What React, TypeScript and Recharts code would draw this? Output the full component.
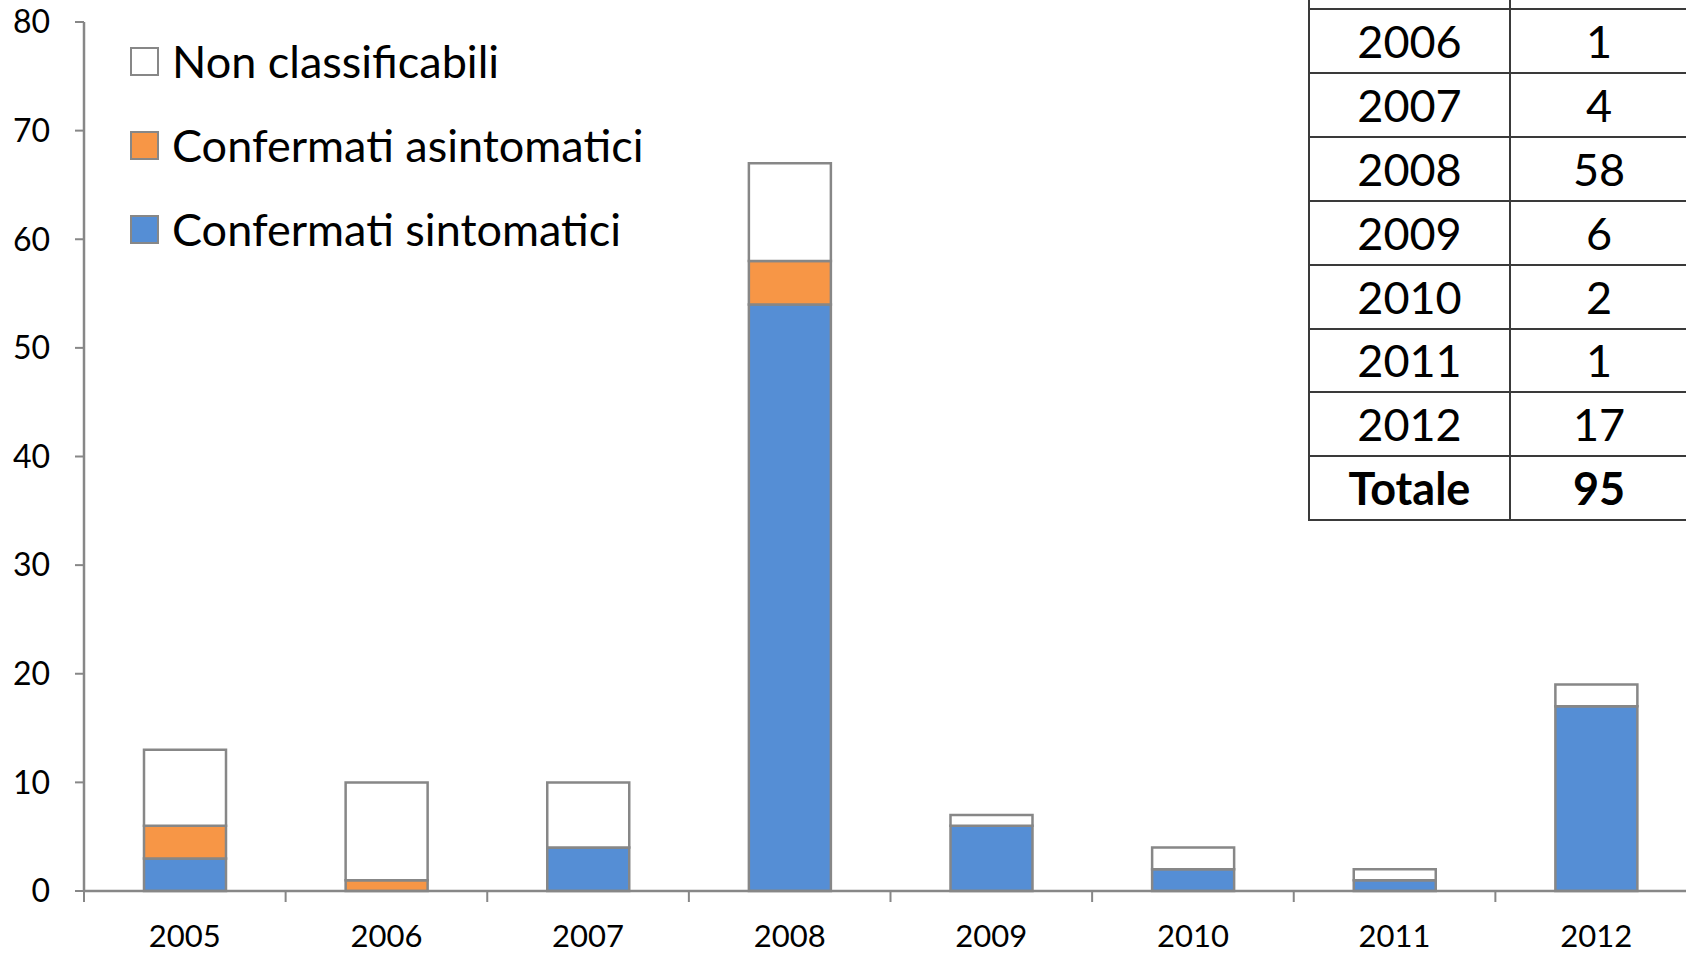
import React from "react";
import { BarChart, Bar, XAxis, YAxis } from "recharts";

const years = ["2005", "2006", "2007", "2008", "2009", "2010", "2011", "2012"];
const sintomatici = [3, 0, 4, 54, 6, 2, 1, 17];
const asintomatici = [3, 1, 0, 4, 0, 0, 0, 0];
const nonClassificabili = [7, 9, 6, 9, 1, 2, 1, 2];
const yTicks = [0, 10, 20, 30, 40, 50, 60, 70, 80];

// riquadro a destra: la riga sopra il 2006 esce dal bordo superiore
const tableYears = ["2006", "2007", "2008", "2009", "2010", "2011", "2012"];
const tableCases = [1, 4, 58, 6, 2, 1, 17];
const totalLabel = "Totale";
const totalCases = 95;

const FONT = "Lato, 'Noto Sans', sans-serif";
const GRAY = "#878787";
const LINE = "#3a3a3a";

const seriesDefs = [
	{ key: "nonClassificabili", name: "Non classificabili", fill: "#ffffff" },
	{ key: "asintomatici", name: "Confermati asintomatici", fill: "#f79646" },
	{ key: "sintomatici", name: "Confermati sintomatici", fill: "#558ed5" },
];

const data = years.map((year, i) => ({
	year,
	sintomatici: sintomatici[i],
	asintomatici: asintomatici[i],
	nonClassificabili: nonClassificabili[i],
}));

function YearTick(props: any) {
	const { x, y, payload, index } = props;
	const half = payload?.offset ?? 100.8;
	const last = index === years.length - 1;
	return (
		<g>
			<line x1={x - half} x2={x - half} y1={y} y2={y + 11} stroke={GRAY} strokeWidth={2} />
			{last && (
				<line x1={x + half} x2={x + half} y1={y} y2={y + 11} stroke={GRAY} strokeWidth={2} />
			)}
			<text
				x={x}
				y={y + 48}
				textAnchor="middle"
				dominantBaseline="middle"
				fill="#000"
				fontSize={31}
				fontFamily={FONT}
			>
				{payload.value}
			</text>
		</g>
	);
}

function LegendBox() {
	return (
		<div style={{ position: "absolute", left: 130, top: 19.5, fontFamily: FONT }}>
			{seriesDefs.map((s) => (
				<div
					key={s.key}
					style={{ display: "flex", alignItems: "center", height: 84 }}
				>
					<span
						style={{
							display: "inline-block",
							width: 29,
							height: 29,
							boxSizing: "border-box",
							background: s.fill,
							border: `2.5px solid ${GRAY}`,
							marginRight: 13,
						}}
					/>
					<span style={{ fontSize: 45, color: "#000", lineHeight: 1, whiteSpace: "nowrap" }}>
						{s.name}
					</span>
				</div>
			))}
		</div>
	);
}

function CasesTable() {
	const rows = [
		{ label: "", value: "", bold: false },
		...tableYears.map((y, i) => ({ label: y, value: String(tableCases[i]), bold: false })),
		{ label: totalLabel, value: String(totalCases), bold: true },
	];
	const cell = (bold: boolean, w: number): React.CSSProperties => ({
		width: w,
		height: 63.85,
		boxSizing: "border-box",
		borderRight: `2px solid ${LINE}`,
		borderBottom: `2px solid ${LINE}`,
		display: "flex",
		alignItems: "center",
		justifyContent: "center",
		fontSize: 45,
		fontWeight: bold ? 700 : 400,
		color: "#000",
		background: "#fff",
	});
	return (
		<div
			style={{
				position: "absolute",
				left: 1308,
				top: -55.5,
				fontFamily: FONT,
				borderLeft: `2px solid ${LINE}`,
				borderTop: `2px solid ${LINE}`,
			}}
		>
			{rows.map((r, i) => (
				<div key={i} style={{ display: "flex" }}>
					<div style={cell(r.bold, 201)}>{r.label}</div>
					<div style={cell(r.bold, 178)}>{r.value}</div>
				</div>
			))}
		</div>
	);
}

export default function App() {
	const stackOrder = [...seriesDefs].reverse();
	return (
		<div
			style={{
				position: "fixed",
				left: 0,
				top: 0,
				width: 1686,
				height: 953,
				overflow: "hidden",
				background: "#fff",
			}}
		>
			<BarChart
				width={1700}
				height={953}
				data={data}
				margin={{ top: 22, right: 3, bottom: 0, left: 0 }}
				barSize={82}
			>
				<XAxis
					dataKey="year"
					height={62}
					axisLine={{ stroke: GRAY, strokeWidth: 2.5 }}
					tickLine={false}
					tickSize={0}
					tickMargin={0}
					interval={0}
					tick={<YearTick />}
				/>
				<YAxis
					width={84}
					domain={[0, 80]}
					ticks={yTicks}
					interval={0}
					axisLine={{ stroke: GRAY, strokeWidth: 2.5 }}
					tickLine={{ stroke: GRAY, strokeWidth: 2 }}
					tickSize={9}
					tickMargin={25}
					tick={{ fill: "#000", fontSize: 32, fontFamily: FONT }}
				/>
				{stackOrder.map((s) => (
					<Bar
						key={s.key}
						dataKey={s.key}
						name={s.name}
						stackId="casi"
						fill={s.fill}
						stroke={GRAY}
						strokeWidth={2.5}
						isAnimationActive={false}
					/>
				))}
			</BarChart>
			<LegendBox />
			<CasesTable />
		</div>
	);
}
